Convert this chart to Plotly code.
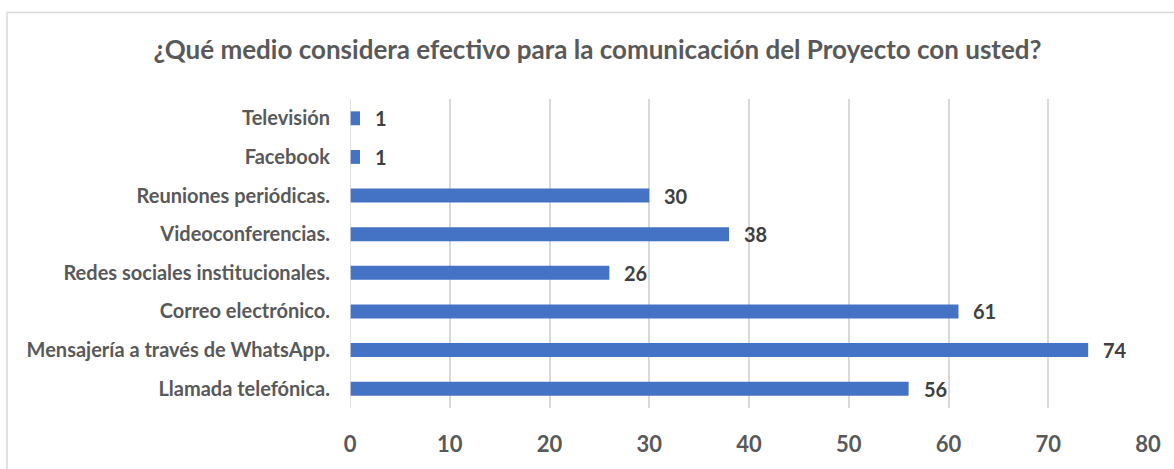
import plotly.graph_objects as go

categories = ["Llamada telefónica.", "Mensajería a través de WhatsApp.", "Correo electrónico.",
              "Redes sociales institucionales.", "Videoconferencias.", "Reuniones periódicas.",
              "Facebook", "Televisión"]
values = [56, 74, 61, 26, 38, 30, 1, 1]
tick_vals = [0, 10, 20, 30, 40, 50, 60, 70, 80]

FONT = "Lato"
GRAY = "#595959"

fig = go.Figure()
fig.add_trace(go.Bar(
    y=categories, x=values, orientation="h",
    marker=dict(color="#4472C4", line=dict(width=0)),
    hoverinfo="x+y",
))

for c, v in zip(categories, values):
    fig.add_annotation(x=v, y=c, text=str(v), showarrow=False,
                       xanchor="left", yanchor="middle", xshift=13,
                       font=dict(family=FONT, size=20, color="#404040", weight="bold"))

fig.update_layout(
    width=1174, height=469,
    margin=dict(l=350, r=26, t=99, b=56),
    paper_bgcolor="white", plot_bgcolor="white",
    bargap=0.64,
    showlegend=False,
    title=dict(text="¿Qué medio considera efectivo para la comunicación del Proyecto con usted?",
               x=0.509, xanchor="center", y=0.893, yanchor="middle",
               font=dict(family=FONT, size=26, color=GRAY, weight="bold")),
    xaxis=dict(range=[0, 80], tickvals=tick_vals, ticktext=[str(t) for t in tick_vals],
               showgrid=True, gridcolor="#D9D9D9",
               gridwidth=1.5, zeroline=False, showline=False, ticks="",
               tickfont=dict(family=FONT, size=22, color=GRAY, weight="bold"), ticklabelstandoff=21),
    yaxis=dict(showgrid=False, zeroline=False, showline=False, ticks="",
               tickfont=dict(family=FONT, size=20, color=GRAY, weight="bold"), ticklabelstandoff=19),
    shapes=[
        dict(type="rect", xref="paper", yref="paper", x0=-0.4298, x1=1.2, y0=-0.5, y1=1.2803,
             line=dict(color="#D9D9D9", width=1.5), fillcolor="rgba(0,0,0,0)", layer="below"),
        dict(type="line", xref="x", yref="paper", x0=0, x1=0, y0=0, y1=1,
             line=dict(color="#D9D9D9", width=1.5)),
    ],
)

fig.write_html("out.html", config={"displayModeBar": False},
               post_script="document.body.style.margin='0';document.body.style.overflow='hidden';")
